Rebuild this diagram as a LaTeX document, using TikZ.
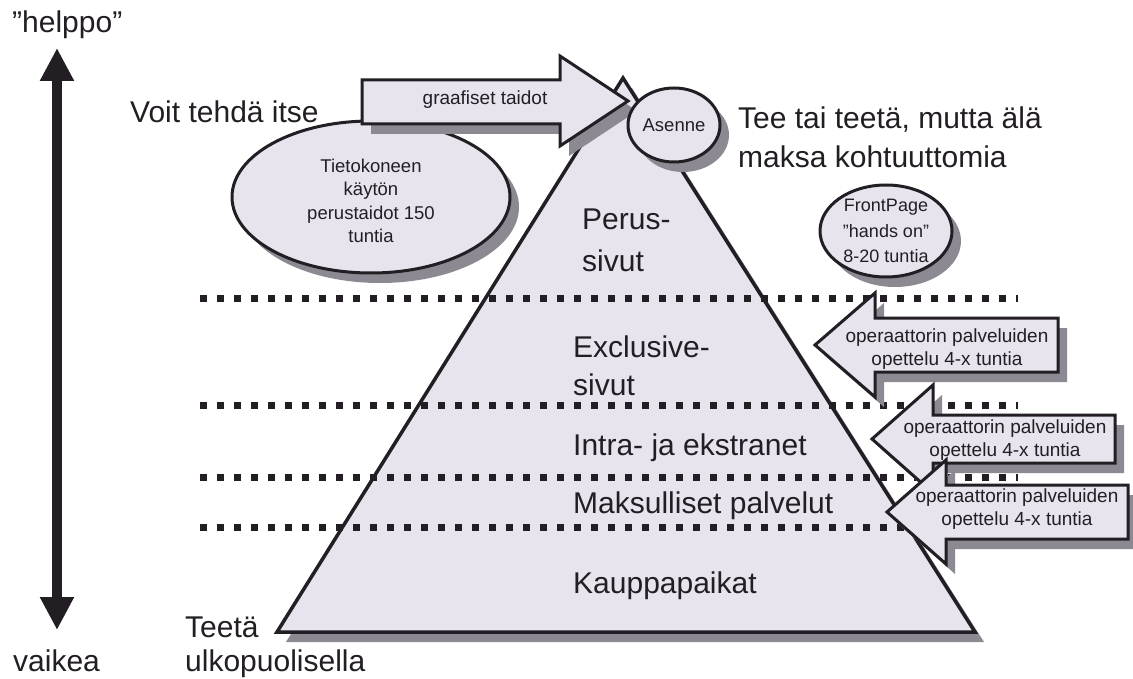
\documentclass[tikz,border=0pt]{standalone}
\usepackage{fontspec}
\setmainfont{Liberation Sans}
\usetikzlibrary{arrows.meta,shapes.geometric,shadows}
\definecolor{ink}{HTML}{221E24}
\definecolor{paper}{HTML}{E7E4EE}
\definecolor{shade}{HTML}{8D8992}
\begin{document}
\begin{tikzpicture}[x=1pt,y=-1pt,
  bigtxt/.style={font=\fontsize{30}{39}\selectfont, text=ink, inner sep=0pt, anchor=base west},
  smalltxt/.style={font=\fontsize{19}{23}\selectfont, text=ink, inner sep=0pt, align=center},
  shadowed/.style={drop shadow={shadow xshift=9pt, shadow yshift=-10pt, fill=shade, opacity=1}},
  blob/.style={draw=ink, line width=3pt, fill=paper, line join=miter},
  dotline/.style={draw=ink, line width=7pt, dash pattern=on 7pt off 10pt},
  oval/.style={ellipse, blob, shadowed, inner sep=0pt, align=center, text=ink, font=\fontsize{18.5}{23.5}\selectfont}
]
\fill[white] (0,0) rectangle (1133,679);
\useasboundingbox (0,0) rectangle (1133,679);

% left double arrow
\coordinate (up) at (57,48);
\coordinate (down) at (57,630);
\draw[ink, line width=10pt, {Triangle[width=32pt,length=33pt]}-{Triangle[width=32pt,length=33pt]}] (up) -- (down);
\node[bigtxt] (helppo) at (12,33) {”helppo”};
\node[bigtxt] (vaikea) at (13,671) {vaikea};

% pyramid
\coordinate (apex) at (623,78);
\coordinate (bl) at (277,632);
\coordinate (br) at (975,632);
\path[blob, shadowed, line width=3.5pt] (apex) -- (br) -- (bl) -- cycle;

% dotted level lines
\foreach \yy/\nm in {298/a,405/b,477/c,527/d}{
  \coordinate (\nm1) at (200,\yy);
  \coordinate (\nm2) at (1018,\yy);
  \draw[dotline] (\nm1) -- (\nm2);
}

% left ellipse
\node[oval, minimum width=278pt, minimum height=152pt] (tk) at (371,197) {};
\node[smalltxt, font=\fontsize{18.5}{23.5}\selectfont] (tkt) at (371,201) {Tietokoneen\\käytön\\perustaidot 150\\tuntia};

% graafiset taidot arrow
\path[blob, shadowed] (362,80) -- (560,80) -- (560,56) -- (628,101) -- (560,146) -- (560,124) -- (362,124) -- cycle;
\node[smalltxt, anchor=base] (gt) at (485,105) {graafiset taidot};

% Asenne
\node[oval, minimum width=92pt, minimum height=74pt] (as) at (674,125) {Asenne};

% FrontPage
\node[oval, minimum width=132pt, minimum height=92pt, font=\fontsize{18}{25.5}\selectfont] (fp) at (886,231) {FrontPage\\”hands on”\\8-20 tuntia};

% right arrows
\path[blob, shadowed] (1058,318) -- (875,318) -- (875,293) -- (815,345) -- (875,397) -- (875,372) -- (1058,372) -- cycle;
\node[smalltxt] (a1t) at (947,349) {operaattorin palveluiden\\opettelu 4-x tuntia};
\path[blob, shadowed] (1115,415) -- (933,415) -- (933,385) -- (872,439) -- (933,493) -- (933,463) -- (1115,463) -- cycle;
\node[smalltxt] (a2t) at (1005,440) {operaattorin palveluiden\\opettelu 4-x tuntia};
\path[blob, shadowed] (1128,485) -- (946,485) -- (946,460) -- (887,512) -- (946,564) -- (946,539) -- (1128,539) -- cycle;
\node[smalltxt] (a3t) at (1017,509) {operaattorin palveluiden\\opettelu 4-x tuntia};

% labels
\node[bigtxt] (voit) at (130,123) {Voit tehdä itse};
\node[bigtxt] (tee1) at (738,129) {Tee tai teetä, mutta älä};
\node[bigtxt] (tee2) at (738,168) {maksa kohtuuttomia};
\node[bigtxt] (per1) at (582,230) {Perus-};
\node[bigtxt] (per2) at (582,272) {sivut};
\node[bigtxt] (exc1) at (573,357) {Exclusive-};
\node[bigtxt] (exc2) at (573,395) {sivut};
\node[bigtxt] (intra) at (573,455) {Intra- ja ekstranet};
\node[bigtxt] (maks) at (573,513) {Maksulliset palvelut};
\node[bigtxt] (kaup) at (573,593) {Kauppapaikat};
\node[bigtxt] (teeta1) at (185,637) {Teetä};
\node[bigtxt] (teeta2) at (185,671) {ulkopuolisella};
\end{tikzpicture}
\end{document}
